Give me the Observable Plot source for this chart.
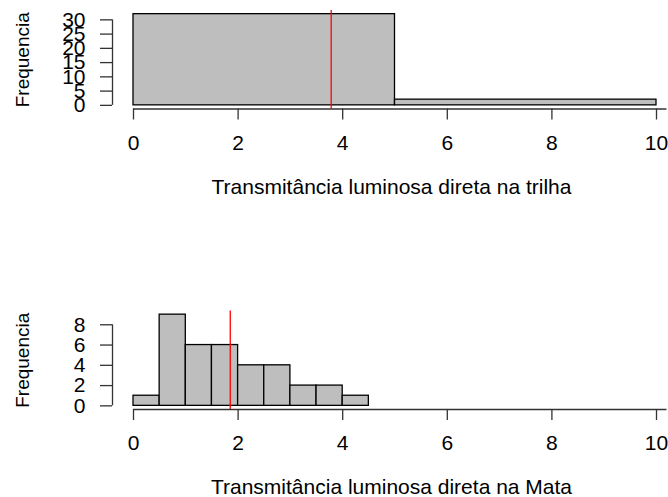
<!DOCTYPE html>
<html>
<head>
<meta charset="utf-8">
<script src="https://cdn.jsdelivr.net/npm/d3@7"></script>
<script src="https://cdn.jsdelivr.net/npm/@observablehq/plot@0.6"></script>
<style>
  html, body { margin: 0; padding: 0; background: white; }
  #chart { width: 668px; height: 497px; overflow: hidden; }
  #chart svg { display: block; }
</style>
</head>
<body>
<div id="chart"></div>
<script>
// ---- data ----
const xTicks = [0, 2, 4, 6, 8, 10];

const trilhaBreaks = [0, 5, 10];
const trilhaCounts = [32, 2];
const trilhaMean = 3.78;
const trilhaYTicks = [0, 5, 10, 15, 20, 25, 30];
const trilhaTitle = "Transmitância luminosa direta na trilha";

const mataBreaks = [0, 0.5, 1, 1.5, 2, 2.5, 3, 3.5, 4, 4.5];
const mataCounts = [1, 9, 6, 6, 4, 4, 2, 2, 1];
const mataMean = 1.85;
const mataYTicks = [0, 2, 4, 6, 8];
const mataTitle = "Transmitância luminosa direta na Mata";

const yLabel = "Frequencia";

// ---- drawing ----
const FONT = "Liberation Sans, Arial, sans-serif";

function histPanel({breaks, counts, mean, yTicks, title, height, marginTop, marginBottom}) {
  const bins = counts.map((c, i) => ({x1: breaks[i], x2: breaks[i + 1], count: c}));
  const ymax = d3.max(counts);
  const ext = 0.04 * ymax;
  return Plot.plot({
    width: 668,
    height,
    marginLeft: 112,
    marginRight: 12,
    insetLeft: 21,
    marginTop,
    marginBottom,
    style: {fontFamily: FONT, color: "black", background: "white", overflow: "visible"},
    x: {domain: [0, 10], axis: null},
    y: {domain: [-ext, ymax + ext], axis: null},
    marks: [
      Plot.rectY(bins, {x1: "x1", x2: "x2", y: "count", fill: "#BEBEBE", stroke: "black", strokeWidth: 1.3}),
      Plot.ruleX([mean], {stroke: "#FF0000", strokeWidth: 1.3}),
      // y axis
      Plot.ruleX([0], {y1: yTicks[0], y2: yTicks[yTicks.length - 1], dx: -21, stroke: "#333", strokeWidth: 1.3}),
      Plot.axisY({ticks: yTicks, tickSize: 12, tickPadding: 15, fontSize: 21, tickFormat: d => String(d), stroke: "#333", strokeWidth: 1.3, color: "black", anchor: "left", label: null}),
      // x axis
      Plot.ruleY([-ext], {x1: 0, x2: 10.2, stroke: "#333", strokeWidth: 1.3}),
      Plot.axisX({ticks: xTicks, tickSize: 11, tickPadding: 15, fontSize: 21, tickFormat: d => String(d), stroke: "#333", strokeWidth: 1.3, anchor: "bottom", label: null}),
      // labels
      Plot.text([title], {frameAnchor: "bottom", dy: 78, dx: 7, fontSize: 21, fill: "black", lineAnchor: "middle", textAnchor: "middle"}),
      Plot.text([yLabel], {frameAnchor: "left", dx: -90, rotate: -90, fontSize: 19, fill: "black", lineAnchor: "middle", textAnchor: "middle"})
    ]
  });
}

const chart = document.getElementById("chart");
chart.append(histPanel({
  breaks: trilhaBreaks, counts: trilhaCounts, mean: trilhaMean, yTicks: trilhaYTicks,
  title: trilhaTitle, height: 248, marginTop: 10, marginBottom: 139.5
}));
chart.append(histPanel({
  breaks: mataBreaks, counts: mataCounts, mean: mataMean, yTicks: mataYTicks,
  title: mataTitle, height: 249, marginTop: 62.5, marginBottom: 88
}));
</script>
</body>
</html>
